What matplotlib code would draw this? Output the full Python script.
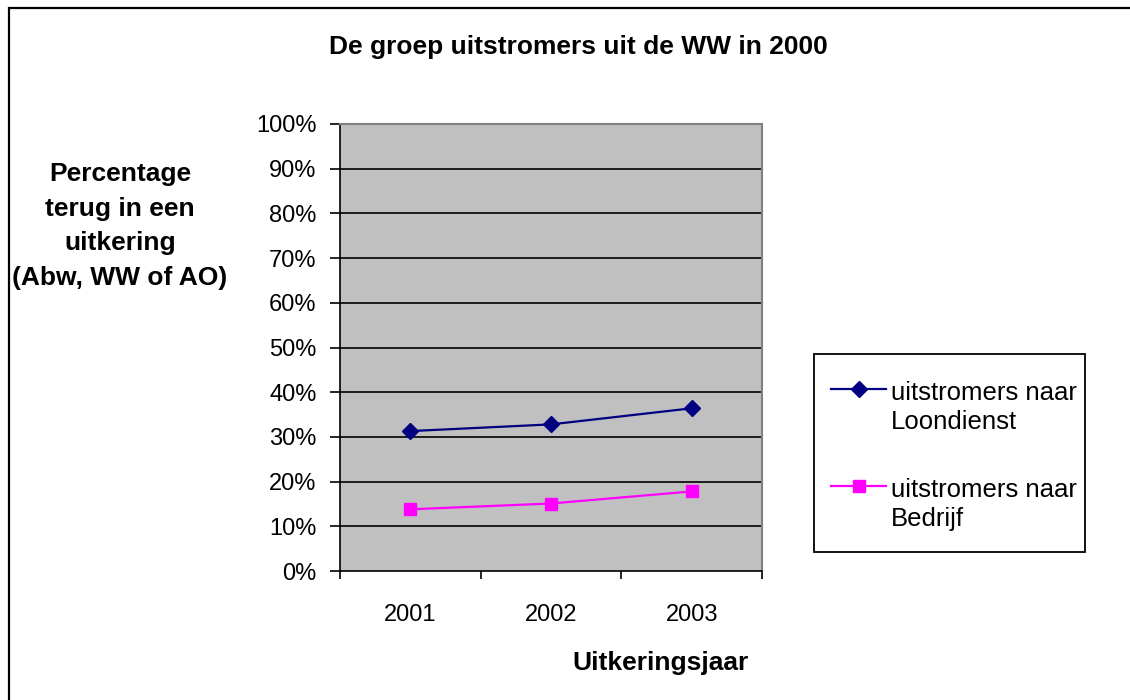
import numpy as np
import matplotlib.pyplot as plt
import matplotlib as mpl
from matplotlib.patches import Rectangle
from matplotlib.lines import Line2D

mpl.rcParams.update({
    "font.family": ["Liberation Sans", "DejaVu Sans"],
    "font.size": 17,
})

years = ["2001", "2002", "2003"]
loondienst = [31.3, 32.8, 36.4]
bedrijf = [13.8, 15.1, 17.8]
yticks = np.arange(0, 101, 10)

series = [
    ("uitstromers naar\nLoondienst", loondienst, dict(color="#000080", marker="D")),
    ("uitstromers naar\nBedrijf", bedrijf, dict(color="#FF00FF", marker="s")),
]

W, H = 1130, 700
fig = plt.figure(figsize=(W / 100, H / 100), dpi=100)
fig.patch.set_facecolor("white")

# outer chart border (clipped on right/bottom like the original)
fig.add_artist(Rectangle((9 / W, -0.05), 1.2, (H - 8) / H + 0.05,
                         transform=fig.transFigure, fill=False,
                         edgecolor="black", lw=1.6))

ax = fig.add_axes([340 / W, (H - 571) / H, 422 / W, 447 / H])
ax.set_facecolor("#C0C0C0")

x = np.arange(len(years))
for label, vals, st in series:
    ax.plot(x, vals, lw=1.6, ms=8.5, zorder=3, **st)

ax.set_xlim(-0.5, 2.5)
ax.set_ylim(0, 100)
ax.set_yticks(yticks)
ax.set_yticklabels([f"{v}%" for v in yticks])
ax.set_xticks(x)
ax.set_xticklabels(years)
ax.set_xticks([-0.5, 0.5, 1.5, 2.5], minor=True)
ax.tick_params(axis="x", which="major", length=0, pad=24)
ax.tick_params(axis="x", which="minor", length=6, width=1.2, direction="out")
ax.tick_params(axis="y", length=7, width=1.2, direction="out", pad=10)
for g in yticks[1:]:
    ax.axhline(g, color="black", lw=1.2, zorder=1)

for s in ("left", "bottom"):
    ax.spines[s].set_color("black")
    ax.spines[s].set_linewidth(1.2)
for s in ("top", "right"):
    ax.spines[s].set_color("#808080")
    ax.spines[s].set_linewidth(1.5)

fig.text(578 / W, 1 - 47 / H, "De groep uitstromers uit de WW in 2000",
         ha="center", va="center", fontsize=19, fontweight="bold")
fig.text(120 / W, 1 - 226 / H,
         "Percentage\nterug in een\nuitkering\n(Abw, WW of AO)",
         ha="center", va="center", fontsize=19, fontweight="bold",
         linespacing=1.55)
fig.text(660 / W, 1 - 663 / H, "Uitkeringsjaar",
         ha="center", va="center", fontsize=19, fontweight="bold")

# legend box, drawn like the original (handle aligned with first text line)
fig.add_artist(Rectangle((814 / W, 1 - 552 / H), 271 / W, 198 / H,
                         transform=fig.transFigure, facecolor="white",
                         edgecolor="black", lw=1.3))
for i, (label, vals, st) in enumerate(series):
    y0 = 389 + i * 97
    fig.add_artist(Line2D([831 / W, 886 / W], [1 - y0 / H, 1 - y0 / H],
                          transform=fig.transFigure, lw=1.6,
                          color=st["color"]))
    fig.add_artist(Line2D([858.5 / W], [1 - y0 / H], transform=fig.transFigure,
                          ms=8.5, ls="none", **st))
    fig.text(891 / W, 1 - (y0 - 8) / H, label, ha="left", va="top",
             fontsize=18.5, linespacing=1.28)

fig.savefig("out.png", dpi=100, facecolor="white")
